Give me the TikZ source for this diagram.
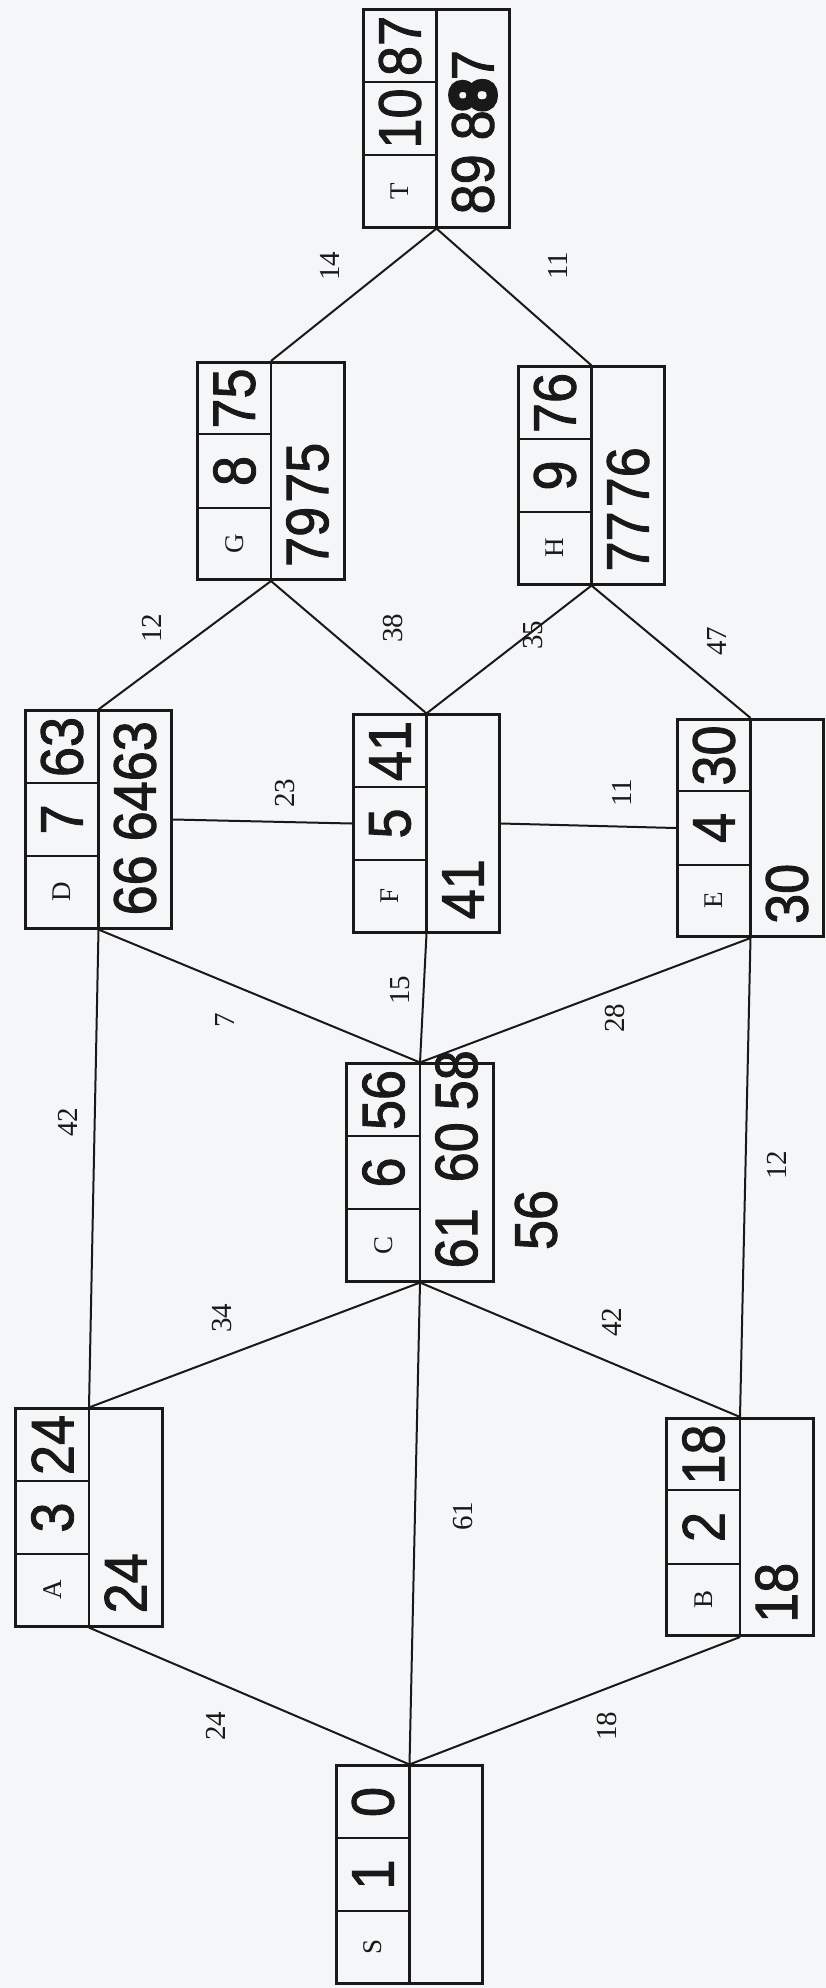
\documentclass[tikz,border=0pt]{standalone}
\usepackage{fontspec}
\setmainfont{Liberation Serif}
\newfontfamily\handfont[FakeStretch=0.9,FakeBold=1.5]{Liberation Sans}
\newfontfamily\blotfont[FakeStretch=0.9,FakeBold=12]{Liberation Sans}
\usetikzlibrary{calc}

\definecolor{paper}{RGB}{245,246,248}
\definecolor{ink}{RGB}{25,25,25}

% one labelled box: name, centre, letter, order, final value, working values
\newcommand{\netnode}[6]{%
  \node[cellbox] (#1) at (#2) {};
  \draw[boxline] (#1.north) -- (#1.south);
  \draw[boxline] ($(#1.north west)!1/3!(#1.south west)$) -- ($(#1.north)!1/3!(#1.south)$);
  \draw[boxline] ($(#1.north west)!2/3!(#1.south west)$) -- ($(#1.north)!2/3!(#1.south)$);
  \node[typed] (#1-name) at ($(#1.center)+(-36.5,72.5)$) {#3};
  \node[hand] (#1-order) at ($(#1.center)+(-36.5,0)$) {#4};
  \node[hand] (#1-final) at ($(#1.center)+(-36.5,-72.5)$) {#5};
  \node[hand,anchor=west] (#1-work) at ($(#1.south)+(36.5,-14)$) {#6};
}

\begin{document}
\begin{tikzpicture}[x=1pt,y=-1pt,
    cellbox/.style={draw=ink,line width=2.6pt,minimum width=146.5pt,minimum height=217.5pt,inner sep=0pt,fill=paper},
    boxline/.style={draw=ink,line width=2.3pt},
    edge/.style={draw=ink,line width=2pt},
    typed/.style={rotate=90,inner sep=0pt,text=ink,font=\fontsize{27}{27}\selectfont},
    hand/.style={rotate=90,inner sep=0pt,text=ink,font=\handfont\fontsize{60}{60}\selectfont},
    weight/.style={rotate=90,inner sep=0pt,text=ink,font=\fontsize{29}{29}\selectfont}]
\fill[paper] (0,0) rectangle (826,1988);
\useasboundingbox (0,0) rectangle (826,1988);

\netnode{S}{409.5,1874.5}{S}{1}{0}{}
\netnode{A}{89,1517.5}{A}{3}{24}{24}
\netnode{B}{740,1527}{B}{2}{18}{18}
\netnode{C}{420,1172.5}{C}{6}{56}{61\hspace{26pt}60\hspace{12pt}58}
\netnode{D}{98.5,819.5}{D}{7}{63}{66\hspace{14pt}6463}
\netnode{F}{426.5,823.5}{F}{5}{41}{41}
\netnode{E}{750.5,828}{E}{4}{30}{30}
\netnode{G}{271,471}{G}{8}{75}{79\hspace{4pt}75}
\netnode{H}{591.5,475.5}{H}{9}{76}{77\hspace{4pt}76}
\netnode{T}{436.5,118.5}{T}{10}{87}{89\hspace{14pt}8{\blotfont 8}7}
\node[hand] (C-best) at (536,1220) {56};

% connections
\foreach \a/\b in {S/A,S/C,S/B,A/D,A/C,B/C,B/E,C/D,C/F,C/E,D/G,F/G,F/H,E/H,G/T,H/T}
  \draw[edge] (\a.north) -- (\b.south);
\draw[edge] (D.east) -- (F.west);
\draw[edge] (F.east) -- (E.west);

% weights
\node[weight] (w-sa) at (216,1726) {24};
\node[weight] (w-sb) at (607,1726) {18};
\node[weight] (w-sc) at (463,1516) {61};
\node[weight] (w-ad) at (68,1122) {42};
\node[weight] (w-ac) at (222,1318) {34};
\node[weight] (w-cd) at (225,1020) {7};
\node[weight] (w-bc) at (612,1322) {42};
\node[weight] (w-be) at (777,1165) {12};
\node[weight] (w-ce) at (615,1018) {28};
\node[weight] (w-cf) at (400,990) {15};
\node[weight] (w-df) at (285,793) {23};
\node[weight] (w-fe) at (622,793) {11};
\node[weight] (w-dg) at (152,628) {12};
\node[weight] (w-fg) at (393,628) {38};
\node[weight] (w-fh) at (533,635) {35};
\node[weight] (w-eh) at (717,641) {47};
\node[weight] (w-gt) at (330,266) {14};
\node[weight] (w-ht) at (558,266) {11};
\end{tikzpicture}
\end{document}
